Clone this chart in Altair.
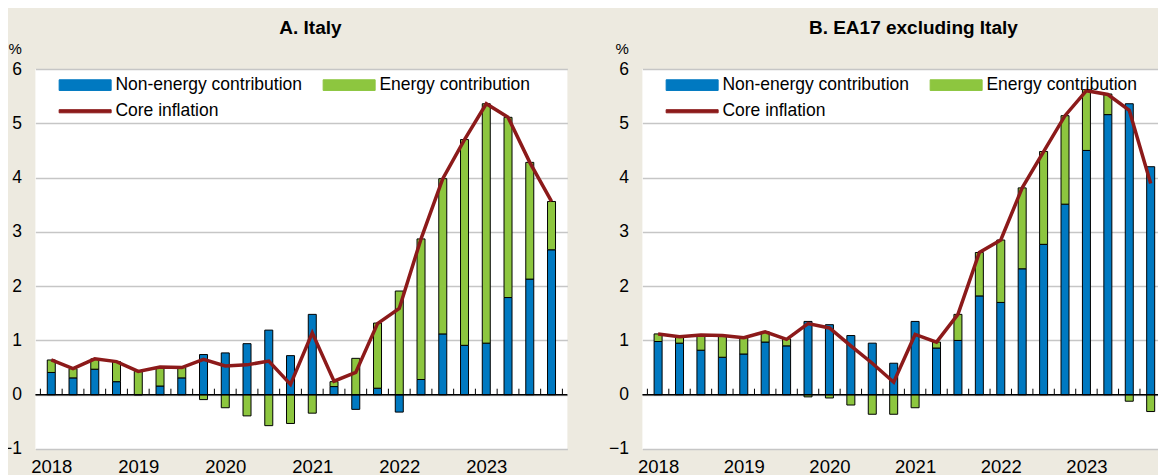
import json
import altair as alt
import pandas as pd

# ---------------- data ----------------
years = ["2018", "2019", "2020", "2021", "2022", "2023"]
quarters = [
    "2018Q1", "2018Q2", "2018Q3", "2018Q4",
    "2019Q1", "2019Q2", "2019Q3", "2019Q4",
    "2020Q1", "2020Q2", "2020Q3", "2020Q4",
    "2021Q1", "2021Q2", "2021Q3", "2021Q4",
    "2022Q1", "2022Q2", "2022Q3", "2022Q4",
    "2023Q1", "2023Q2", "2023Q3", "2023Q4",
]
series_names = ["Non-energy contribution", "Energy contribution", "Core inflation"]
unit_label = ["%"]

italy_non_energy = [0.41, 0.31, 0.47, 0.24, 0.00, 0.16, 0.31, 0.74,
                    0.77, 0.94, 1.19, 0.72, 1.48, 0.15, -0.27, 0.12,
                    -0.32, 0.28, 1.12, 0.91, 0.95, 1.79, 2.13, 2.67]
italy_energy = [0.23, 0.17, 0.19, 0.37, 0.43, 0.35, 0.19, -0.09,
                -0.24, -0.39, -0.57, -0.53, -0.34, 0.09, 0.67, 1.20,
                1.91, 2.59, 2.86, 3.79, 4.41, 3.32, 2.15, 0.89]
italy_core = [0.64, 0.48, 0.66, 0.61, 0.43, 0.51, 0.50, 0.65,
              0.53, 0.55, 0.62, 0.19, 1.14, 0.25, 0.41, 1.31,
              1.59, 2.87, 3.98, 4.70, 5.36, 5.11, 4.28, 3.56]

ea_non_energy = [0.98, 0.95, 0.82, 0.69, 0.75, 0.97, 0.90, 1.35,
                 1.29, 1.09, 0.95, 0.58, 1.35, 0.86, 1.00, 1.82,
                 1.70, 2.32, 2.77, 3.51, 4.50, 5.16, 5.36, 4.20]
ea_energy = [0.14, 0.13, 0.28, 0.40, 0.31, 0.19, 0.13, -0.04,
             -0.06, -0.19, -0.36, -0.36, -0.24, 0.11, 0.48, 0.80,
             1.15, 1.49, 1.71, 1.63, 1.12, 0.38, -0.12, -0.31]
ea_core = [1.12, 1.07, 1.10, 1.09, 1.05, 1.16, 1.02, 1.31,
           1.23, 0.90, 0.58, 0.23, 1.11, 0.97, 1.48, 2.62,
           2.85, 3.81, 4.48, 5.14, 5.60, 5.53, 5.24, 3.89]

y_ticks = [-1, 0, 1, 2, 3, 4, 5, 6]

# ---------------- styling ----------------
BG = "#EDEAE0"
BLUE = "#0079C1"
GREEN = "#8DC63F"
RED = "#8C1A1A"
FONT = "Liberation Sans, Arial, sans-serif"

n = len(quarters)
year_expr = json.dumps(years) + "[floor(datum.value / 4)]"
rect_big = "M-4,-0.82H4V0.82H-4Z"
rect_line = "M-4,-0.24H4V0.24H-4Z"


def panel(title, non_energy, energy, core, plot_width):
    rows = []
    for i, q in enumerate(quarters):
        rows.append({"pos": i + 0.5, "quarter": q, "component": series_names[0],
                     "value": non_energy[i], "ord": 0})
        rows.append({"pos": i + 0.5, "quarter": q, "component": series_names[1],
                     "value": energy[i], "ord": 1})
    bars_df = pd.DataFrame(rows)
    line_df = pd.DataFrame({"pos": [i + 0.5 for i in range(n)], "quarter": quarters,
                            "value": core, "component": series_names[2]})
    ticks_df = pd.DataFrame({"pos": list(range(n + 1)), "value": [0] * (n + 1)})
    zero_df = pd.DataFrame({"value": [0]})
    unit_df = pd.DataFrame({"unit": unit_label})

    x_scale = alt.Scale(domain=[0, n], nice=False, zero=False)
    y_scale = alt.Scale(domain=[y_ticks[0], y_ticks[-1]], nice=False)
    color_scale = alt.Scale(domain=series_names, range=[BLUE, GREEN, RED])

    x_axis = alt.Axis(values=[i * 4 + 0.5 for i in range(len(years))],
                      labelExpr=year_expr, grid=False, domain=False, ticks=False,
                      labelFontSize=18.5, labelPadding=8.5, labelColor="black",
                      labelBaseline="top", title=None)
    y_axis = alt.Axis(values=y_ticks, grid=True, domain=False, ticks=False,
                      labelFontSize=17.5, labelPadding=14, labelColor="black",
                      title=None)

    legend = alt.Legend(
        title=None, orient="none", legendX=21.5, legendY=7, columns=2,
        direction="horizontal",
        columnPadding=18, rowPadding=7.5, padding=0,
        labelFontSize=17.5, labelColor="black", labelLimit=400,
        symbolSize=169, symbolOffset=19.5, labelOffset=21.5,
        symbolType=alt.ExprRef(
            expr=f"datum.value === '{series_names[2]}' ? '{rect_line}' : '{rect_big}'"),
        symbolStrokeColor=alt.ExprRef(
            expr=f"datum.value === '{series_names[2]}' ? '{RED}' : 'black'"),
        symbolStrokeWidth=1,
    )

    X = alt.X("pos:Q", scale=x_scale, axis=x_axis)
    Y = alt.Y("value:Q", scale=y_scale, axis=y_axis)

    bars = alt.Chart(bars_df).mark_bar(size=8, stroke="black", strokeWidth=1).encode(
        x=X,
        y=alt.Y("value:Q", stack="zero", scale=y_scale, axis=y_axis),
        color=alt.Color("component:N", scale=color_scale, legend=legend),
        order=alt.Order("ord:Q"),
    )
    zero_line = alt.Chart(zero_df).mark_rule(color="black", strokeWidth=1.5).encode(
        y=Y,
    )
    tick_marks = alt.Chart(ticks_df).mark_rule(color="black", strokeWidth=1, y2Offset=-6).encode(
        x=X, y=Y, y2="value:Q",
    )
    line = alt.Chart(line_df).mark_line(strokeWidth=3.5, strokeJoin="miter").encode(
        x=X, y=Y,
        color=alt.Color("component:N", scale=color_scale, legend=None),
    )
    unit_text = alt.Chart(unit_df).mark_text(
        align="left", baseline="alphabetic", fontSize=15, color="black",
    ).encode(text="unit:N", x=alt.value(-27), y=alt.value(-15))
    return alt.layer(bars, zero_line, tick_marks, line, unit_text).properties(
        width=plot_width, height=380,
        title=alt.TitleParams(title, fontSize=19, fontWeight="bold", color="black",
                              anchor="middle", frame="group", dx=9, offset=4.5),
    )


chart_a = panel("A. Italy", italy_non_energy, italy_energy, italy_core, 532)
chart_b = panel("B. EA17 excluding Italy", ea_non_energy, ea_energy, ea_core, 524)

chart = alt.HConcatChart(hconcat=[chart_a, chart_b], spacing=75, bounds="flush").resolve_scale(
    x="independent", y="independent", color="independent"
).resolve_legend(color="independent").configure(
    background=BG, font=FONT, padding={"left": -6.6, "top": 10, "right": -9, "bottom": 0},
).configure_view(
    fill="white", stroke=None,
).configure_axis(
    gridColor="#C6C6C6", gridWidth=1.3,
)

chart.save("out.html", embed_options={"renderer": "svg", "actions": False})
